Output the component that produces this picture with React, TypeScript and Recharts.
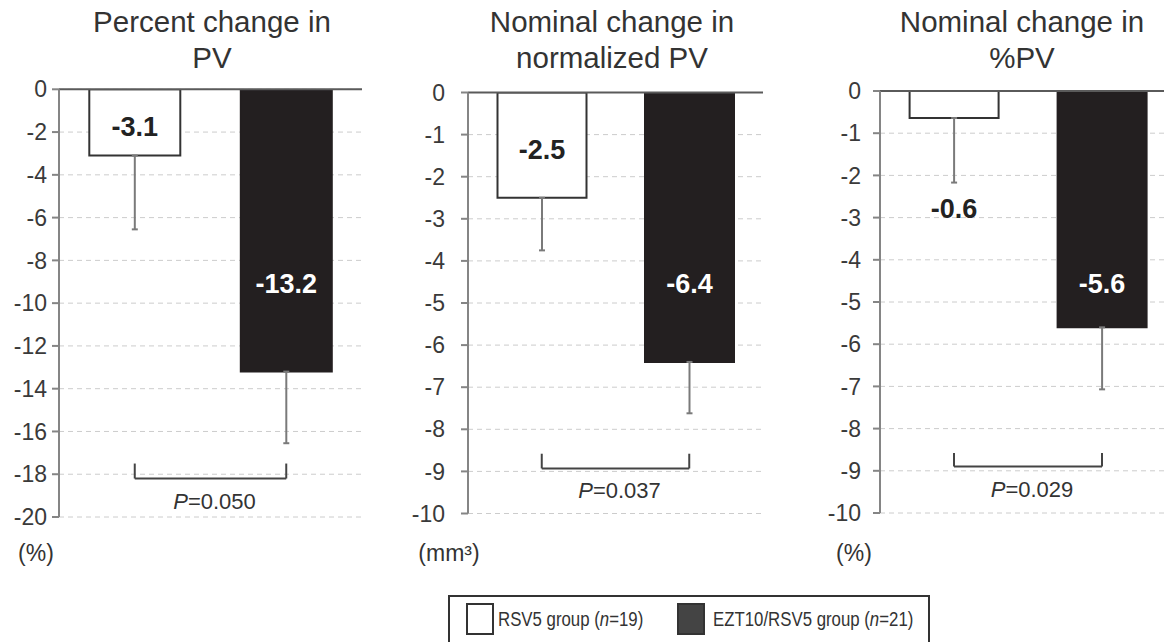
import React from 'react';
import { BarChart, Bar, XAxis, YAxis, CartesianGrid, ErrorBar, ReferenceLine, LabelList, Cell } from 'recharts';

// groups and values
const groups = ['RSV5 group', 'EZT10/RSV5 group'];
const groupN = [19, 21];
const panelTitles = [
  ['Percent change in', 'PV'],
  ['Nominal change in', 'normalized PV'],
  ['Nominal change in', '%PV'],
];
const panelUnits = ['(%)', '(mm³)', '(%)'];
const meanChange = [
  [-3.1, -13.2],
  [-2.5, -6.4],
  [-0.64, -5.6],
];
const sdChange = [
  [3.45, 3.35],
  [1.25, 1.22],
  [1.53, 1.47],
];
const yTicks = [
  [0, -2, -4, -6, -8, -10, -12, -14, -16, -18, -20],
  [0, -1, -2, -3, -4, -5, -6, -7, -8, -9, -10],
  [0, -1, -2, -3, -4, -5, -6, -7, -8, -9, -10],
];
const pValues = ['0.050', '0.037', '0.029'];
// [tick top, bracket line]
const bracketLevel = [
  [-17.5, -18.2],
  [-8.58, -8.93],
  [-8.58, -8.9],
];

const FONT = "'Liberation Sans', Arial, Helvetica, sans-serif";
const CHART_H = 580;
const barFill = ['#ffffff', '#231f20'];
const barStroke = ['#333333', '#231f20'];
const labelFill = ['#222222', '#ffffff'];

const panelLayout = [
  { left: 0, width: 390, axisX: 59, top: 89.3, bottom: 517, right: 28, tickMargin: 5, titleX: 212, unitX: 36 },
  { left: 390, width: 390, axisX: 78, top: 92.5, bottom: 513.5, right: 17, tickMargin: 16, titleX: 612, unitX: 449 },
  { left: 780, width: 396, axisX: 100, top: 91, bottom: 513, right: 0, tickMargin: 12, titleX: 1022, unitX: 854 },
];

const makeValueLabel = (errs: number[]) => (props: any) => {
  const vb = props.viewBox ?? props;
  const { x, y, width, height } = vb;
  const index = props.index ?? 0;
  const value = Number(props.value);
  const top = Math.min(y, y + height);
  const bottom = Math.max(y, y + height);
  const h = bottom - top;
  let cy: number;
  if (index === 1) {
    cy = 283;
  } else if (h > 40) {
    cy = (top + bottom) / 2 + 4;
  } else {
    const pxPerUnit = h / Math.abs(value);
    cy = bottom + errs[index] * pxPerUnit + 26;
  }
  return (
    <text
      x={x + width / 2}
      y={cy}
      dy="0.36em"
      textAnchor="middle"
      fontFamily={FONT}
      fontWeight="bold"
      fontSize={27}
      fill={labelFill[index]}
    >
      {value.toFixed(1)}
    </text>
  );
};

const makePLabel = (p: string) => (props: any) => {
  const vb = props.viewBox ?? props;
  const cx = vb.x + vb.width / 2 + 4;
  return (
    <text x={cx} y={vb.y + 30} textAnchor="middle" fontFamily={FONT} fontSize={22} fill="#333">
      <tspan fontStyle="italic">P</tspan>
      <tspan>={p}</tspan>
    </text>
  );
};

function Panel({ idx }: { idx: number }) {
  const lay = panelLayout[idx];
  const data = groups.map((g, i) => ({
    group: g,
    mean: meanChange[idx][i],
    err: [sdChange[idx][i], 0],
  }));
  const ticks = yTicks[idx];
  const [tickTop, base] = bracketLevel[idx];

  return (
    <div style={{ position: 'absolute', left: lay.left, top: 0 }}>
      <BarChart
        width={lay.width}
        height={CHART_H}
        data={data}
        margin={{ top: lay.top, right: lay.right, bottom: CHART_H - lay.bottom, left: 0 }}
        barCategoryGap="20%"
      >
        <CartesianGrid vertical={false} stroke="#cccccc" strokeDasharray="5 4" />
        <XAxis dataKey="group" hide />
        <YAxis
          width={lay.axisX}
          domain={[ticks[ticks.length - 1], 0]}
          ticks={ticks}
          interval={0}
          allowDataOverflow
          axisLine={{ stroke: '#858585', strokeWidth: 2 }}
          tickLine={{ stroke: '#858585', strokeWidth: 2 }}
          tickSize={7}
          tickMargin={lay.tickMargin}
          tick={{ fontSize: 23, fill: '#3a3a3a', fontFamily: FONT }}
        />
        <Bar dataKey="mean" isAnimationActive={false} strokeWidth={2}>
          {data.map((d, i) => (
            <Cell key={d.group} fill={barFill[i]} stroke={barStroke[i]} />
          ))}
          <ErrorBar dataKey="err" direction="y" width={3} stroke="#7a7a7a" strokeWidth={2} />
          <LabelList dataKey="mean" content={makeValueLabel(sdChange[idx])} />
        </Bar>
        <ReferenceLine y={0} stroke="#5a5a5a" strokeWidth={2} />
        <ReferenceLine
          segment={[{ x: groups[0], y: tickTop }, { x: groups[0], y: base }]}
          stroke="#444"
          strokeWidth={2}
        />
        <ReferenceLine
          segment={[{ x: groups[1], y: tickTop }, { x: groups[1], y: base }]}
          stroke="#444"
          strokeWidth={2}
        />
        <ReferenceLine
          segment={[{ x: groups[0], y: base }, { x: groups[1], y: base }]}
          stroke="#444"
          strokeWidth={2}
          label={makePLabel(pValues[idx])}
        />
      </BarChart>
    </div>
  );
}

export default function App() {
  return (
    <div
      style={{
        position: 'fixed',
        left: 0,
        top: 0,
        width: 1164,
        height: 642,
        overflow: 'hidden',
        background: '#fff',
        fontFamily: FONT,
        color: '#333',
      }}
    >
      {panelTitles.map((t, i) => (
        <div
          key={'title' + i}
          style={{
            position: 'absolute',
            left: panelLayout[i].titleX - 200,
            top: 4,
            width: 400,
            textAlign: 'center',
            fontSize: 29.5,
            lineHeight: '36px',
          }}
        >
          {t[0]}
          <br />
          {t[1]}
        </div>
      ))}
      {[0, 1, 2].map((i) => (
        <Panel key={i} idx={i} />
      ))}
      {panelUnits.map((u, i) => (
        <div
          key={'unit' + i}
          style={{
            position: 'absolute',
            left: panelLayout[i].unitX - 60,
            top: 539,
            width: 120,
            textAlign: 'center',
            fontSize: 23,
            lineHeight: '28px',
          }}
        >
          {u}
        </div>
      ))}
      <div
        style={{
          position: 'absolute',
          left: 448,
          top: 595,
          width: 482,
          height: 52,
          border: '2px solid #333',
          boxSizing: 'border-box',
          fontSize: 20,
        }}
      >
        {groups.map((g, i) => (
          <div
            key={g}
            style={{
              position: 'absolute',
              left: i === 0 ? 16 : 227,
              top: 6,
              display: 'flex',
              alignItems: 'center',
              whiteSpace: 'nowrap',
            }}
          >
            <span
              style={{
                display: 'inline-block',
                width: 28,
                height: 32,
                boxSizing: 'border-box',
                border: '2px solid #333',
                background: i === 0 ? '#fff' : '#444',
                marginRight: i === 0 ? 4 : 8,
              }}
            />
            <span
              style={{
                display: 'inline-block',
                transform: 'scaleX(0.84)',
                transformOrigin: 'left center',
              }}
            >
              {g} (<i>n</i>={groupN[i]})
            </span>
          </div>
        ))}
      </div>
    </div>
  );
}
